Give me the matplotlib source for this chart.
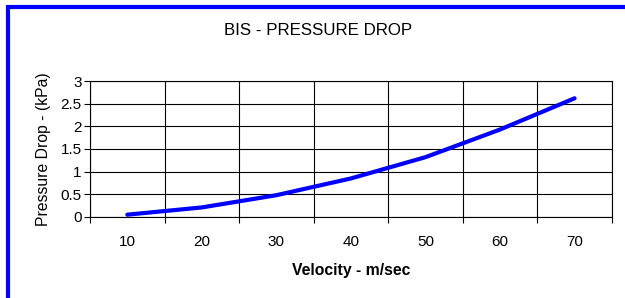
import matplotlib.pyplot as plt
from matplotlib.lines import Line2D

plt.rcParams['font.family'] = ['Liberation Sans', 'DejaVu Sans']

velocity = [10, 20, 30, 40, 50, 60, 70]
pressure_drop = [0.05, 0.21, 0.48, 0.85, 1.32, 1.93, 2.62]
y_ticks = [0, 0.5, 1, 1.5, 2, 2.5, 3]

fig = plt.figure(figsize=(6.25, 2.98), dpi=100)
ax = fig.add_axes([0.144, 0.272, 0.835, 0.456])

# category axis, like the spreadsheet: points sit between tick marks
pos = [i + 0.5 for i in range(len(velocity))]
ax.plot(pos, pressure_drop, color='#0000ff', linewidth=3, solid_capstyle='round')

ax.set_xlim(0, len(velocity))
ax.set_ylim(0, 3)
ax.set_xticks(range(len(velocity) + 1))
ax.set_xticklabels([])
ax.set_xticks(pos, minor=True)
ax.set_xticklabels([str(v) for v in velocity], minor=True)
ax.tick_params(axis='x', which='minor', length=0, pad=13, labelsize=11)
ax.tick_params(axis='x', which='major', length=4, direction='out', color='black')
ax.set_yticks(y_ticks)
ax.set_yticklabels(['0', '0.5', '1', '1.5', '2', '2.5', '3'])
ax.tick_params(axis='y', length=4, direction='out', labelsize=11, pad=2)

ax.grid(True, which='major', color='black', linewidth=0.8)
for s in ax.spines.values():
    s.set_color('black')
    s.set_linewidth(0.8)

ax.set_xlabel('Velocity - m/sec', fontsize=11.3, fontweight='bold', labelpad=10)
ax.set_ylabel('Pressure Drop - (kPa)', fontsize=11.3, labelpad=7)
fig.text(0.509, 0.898, 'BIS - PRESSURE DROP', ha='center', va='center', fontsize=12.2)

# blue frame around the chart (top and left visible)
fig.add_artist(Line2D([0.011, 1.0], [0.977, 0.977], transform=fig.transFigure,
                      color='#0000ff', linewidth=3, solid_capstyle='butt'))
fig.add_artist(Line2D([0.013, 0.013], [0.0, 0.982], transform=fig.transFigure,
                      color='#0000ff', linewidth=3, solid_capstyle='butt'))

fig.savefig('out.png', dpi=100)
